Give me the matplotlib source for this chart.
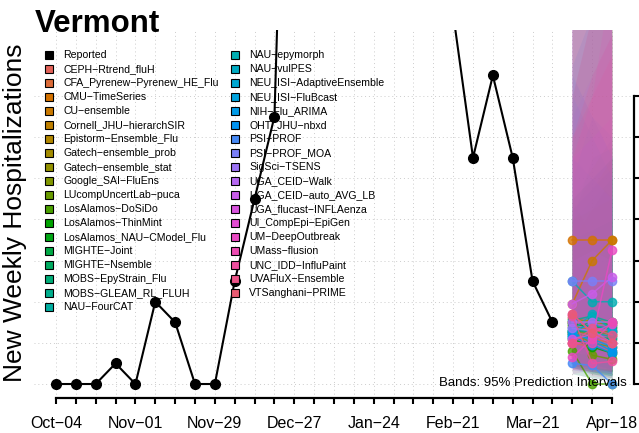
import matplotlib
matplotlib.use("Agg")
import matplotlib.pyplot as plt
import matplotlib.transforms as mtransforms
import numpy as np

plt.rcParams['font.family'] = ['Liberation Sans', 'DejaVu Sans']

# weekly hospital admissions, Oct-04 .. Mar-28
weeks_obs = np.arange(26)
reported = [0, 0, 0, 1, 0, 4, 3, 0, 0, 5, 9, 13,
            45, 60, 58, 52, 45, 38, 30, 26,
            18, 11, 15, 11, 5, 3]

tick_labels = ['Oct\u221204', 'Nov\u221201', 'Nov\u221229', 'Dec\u221227',
               'Jan\u221224', 'Feb\u221221', 'Mar\u221221', 'Apr\u221218']

models = ['CEPH\u2212Rtrend_fluH', 'CFA_Pyrenew\u2212Pyrenew_HE_Flu', 'CMU\u2212TimeSeries',
          'CU\u2212ensemble', 'Cornell_JHU\u2212hierarchSIR', 'Epistorm\u2212Ensemble_Flu',
          'Gatech\u2212ensemble_prob', 'Gatech\u2212ensemble_stat', 'Google_SAI\u2212FluEns',
          'LUcompUncertLab\u2212puca', 'LosAlamos\u2212DoSiDo', 'LosAlamos\u2212ThinMint',
          'LosAlamos_NAU\u2212CModel_Flu', 'MIGHTE\u2212Joint', 'MIGHTE\u2212Nsemble',
          'MOBS\u2212EpyStrain_Flu', 'MOBS\u2212GLEAM_RL_FLUH', 'NAU\u2212FourCAT',
          'NAU\u2212epymorph', 'NAU\u2212vulPES', 'NEU_ISI\u2212AdaptiveEnsemble',
          'NEU_ISI\u2212FluBcast', 'NIH\u2212Flu_ARIMA', 'OHT_JHU\u2212nbxd', 'PSI\u2212PROF',
          'PSI\u2212PROF_MOA', 'SigSci\u2212TSENS', 'UGA_CEID\u2212Walk',
          'UGA_CEID\u2212auto_AVG_LB', 'UGA_flucast\u2212INFLAenza', 'UI_CompEpi\u2212EpiGen',
          'UM\u2212DeepOutbreak', 'UMass\u2212flusion', 'UNC_IDD\u2212InfluPaint',
          'UVAFluX\u2212Ensemble', 'VTSanghani\u2212PRIME']

# forecast horizons (weeks 26, 27, 28): median, 2.5% and 97.5% quantiles per model
weeks_fc = [26, 27, 28]
median = [[2.0, 1.8, 1.6], [2.5, 2.2, 2.0], [7.0, 7.0, 7.0], [3.9, 6.0, 7.0],
          [2.8, 2.6, 2.4], [3.0, 3.1, 3.0], [2.6, 2.4, 2.6], [3.2, 3.0, 2.9],
          [2.5, 2.0, 1.8], [3.0, 1.4, 1.2], [1.6, 0.0, 0.0], [2.2, 1.8, 1.5],
          [2.9, 2.8, 2.7], [2.4, 2.3, 2.2], [2.6, 2.5, 2.5], [2.3, 3.2, 2.8],
          [3.1, 3.3, 3.0], [2.7, 2.5, 2.3], [5.0, 4.0, 4.0], [2.6, 3.4, 2.6],
          [2.6, 2.9, 2.6], [2.4, 2.2, 1.8], [2.5, 2.1, 1.6], [2.3, 1.9, 1.5],
          [1.0, 0.9, 0.0], [5.0, 5.0, 5.0], [2.7, 2.6, 2.0], [3.0, 3.0, 3.0],
          [3.9, 4.4, 5.2], [2.2, 2.4, 2.0], [3.4, 2.5, 2.9], [1.3, 2.2, 6.5],
          [2.0, 2.0, 3.0], [3.3, 1.0, 1.1], [2.0, 2.7, 2.4], [3.4, 2.5, 2.0]]
lower = [[0.8, 0.6, 0.5], [1.0, 0.8, 0.6], [3.0, 2.5, 2.0], [1.5, 2.0, 2.2],
         [1.0, 0.8, 0.6], [1.2, 1.0, 0.8], [0.9, 0.7, 0.6], [1.2, 1.0, 0.8],
         [0.8, 0.6, 0.4], [1.0, 0.5, 0.3], [0.5, 0.3, 0.2], [0.8, 0.5, 0.4],
         [1.0, 0.8, 0.6], [0.8, 0.6, 0.5], [0.9, 0.7, 0.6], [0.8, 0.9, 0.7],
         [1.1, 1.0, 0.8], [0.9, 0.7, 0.5], [2.0, 1.5, 1.2], [0.9, 1.0, 0.7],
         [0.9, 0.8, 0.6], [0.8, 0.6, 0.4], [0.8, 0.6, 0.4], [0.7, 0.5, 0.3],
         [0.5, 0.3, 0.2], [2.0, 1.6, 1.2], [0.9, 0.7, 0.5], [1.0, 0.8, 0.7],
         [1.5, 1.4, 1.3], [0.7, 0.6, 0.5], [1.2, 0.8, 0.7], [0.5, 0.7, 1.5],
         [0.7, 0.6, 0.7], [1.0, 0.4, 0.3], [0.7, 0.8, 0.6], [1.2, 0.8, 0.6]]
upper = [[7.0, 8.5, 10.0], [8.0, 9.5, 11.0], [18.0, 20.0, 22.0], [14.0, 18.0, 22.0],
         [8.5, 10.0, 11.0], [9.0, 10.5, 12.0], [8.0, 9.0, 10.0], [17.5, 19.0, 20.0],
         [8.0, 8.5, 9.0], [9.0, 7.0, 7.5], [6.0, 5.0, 5.5], [7.0, 7.5, 8.0],
         [9.0, 10.0, 11.0], [8.0, 9.0, 10.0], [8.5, 9.5, 10.5], [8.0, 11.0, 11.5],
         [18.0, 20.0, 22.0], [9.0, 10.0, 11.0], [17.5, 18.0, 19.0], [10.0, 13.0, 12.0],
         [14.0, 12.0, 10.0], [11.0, 10.0, 9.0], [15.5, 18.0, 21.0], [15.0, 13.0, 11.0],
         [6.0, 6.5, 6.0], [13.0, 15.0, 17.0], [18.0, 20.0, 22.0], [11.0, 12.0, 13.0],
         [19.0, 22.0, 26.0], [19.0, 21.0, 23.0], [20.0, 22.0, 24.0], [11.0, 14.0, 20.0],
         [14.0, 18.0, 21.0], [12.0, 14.0, 16.0], [12.0, 15.0, 17.0], [18.0, 20.0, 22.0]]


def hcl(h, c, l):
    # polar Luv -> sRGB, same as R's grDevices::hcl
    h = np.deg2rad(h)
    u, v = c * np.cos(h), c * np.sin(h)
    xn, yn, zn = 95.047, 100.0, 108.883
    un = 4 * xn / (xn + 15 * yn + 3 * zn)
    vn = 9 * yn / (xn + 15 * yn + 3 * zn)
    y = yn * ((l + 16) / 116) ** 3
    up = u / (13 * l) + un
    vp = v / (13 * l) + vn
    x = 9 * y * up / (4 * vp)
    z = -x / 3 - 5 * y + 3 * y / vp
    m = np.array([[3.240479, -1.537150, -0.498535],
                  [-0.969256, 1.875992, 0.041556],
                  [0.055648, -0.204043, 1.057311]])
    rgb = m @ np.array([x, y, z]) / 100
    rgb = np.where(rgb > 0.00304, 1.055 * np.abs(rgb) ** (1 / 2.4) - 0.055, 12.92 * rgb)
    return tuple(np.clip(rgb, 0, 1))


n = len(models)
colors = [hcl(15 + 360 * i / n, 100, 58) for i in range(n)]

W, H = 639, 433
fig = plt.figure(figsize=(W / 100, H / 100), dpi=100)
px = mtransforms.Affine2D().scale(1 / W, -1 / H).translate(0, 1) + fig.transFigure

ax = fig.add_axes([34 / W, 1 - 398 / H, 600 / W, 368 / H])
ax.set_xlim(-1.108, 29.108)
ax.set_ylim(-0.68, 17.21)

# dotted grid
for wk in range(29):
    ax.axvline(wk, color='#cccccc', lw=0.7, ls=(0, (1, 3)), zorder=0)
for yv in range(0, 15, 2):
    ax.axhline(yv, color='#cccccc', lw=0.7, ls=(0, (1, 3)), zorder=0)

# prediction bands
for i in range(n):
    ax.fill_between(weeks_fc, lower[i], upper[i], color=colors[i], alpha=0.13,
                    lw=0, zorder=1)

ax.plot(weeks_obs, reported, color='black', lw=1.5, marker='o', ms=7, zorder=3)

for i in range(n):
    ax.plot(weeks_fc, median[i], color=colors[i], lw=1.1, marker='o', ms=6,
            alpha=0.8, zorder=2)

ax.text(627, 383, 'Bands: 95% Prediction Intervals', transform=px,
        ha='right', va='center', fontsize=9.5, zorder=5)

# axes
for side in ['left', 'top']:
    ax.spines[side].set_visible(False)
ax.spines['bottom'].set_bounds(0, 28)
ax.spines['bottom'].set_linewidth(1.6)
ax.spines['right'].set_bounds(0, 14)
ax.spines['right'].set_linewidth(1.6)
ax.set_xticks(range(29))
ax.set_xticklabels([tick_labels[k // 4] if k % 4 == 0 else '' for k in range(29)],
                   fontsize=11.5)
ax.tick_params(axis='x', direction='out', length=4, width=1.5, pad=9)
ax.yaxis.tick_right()
ax.set_yticks(range(0, 15, 2))
ax.tick_params(axis='y', direction='out', length=4, width=1.5, labelright=False)

# legend
for i, name in enumerate(['Reported'] + models):
    col, row = divmod(i, 19)
    bx = 48.5 if col == 0 else 234.5
    by = 55 + 14 * row
    fc = 'black' if i == 0 else colors[i - 1]
    ax.plot([bx], [by], marker='s', ms=6.2, mfc=fc, mec='black', mew=0.8,
            transform=px, clip_on=False, zorder=4)
    ax.text(bx + 14.5, by, name, transform=px, fontsize=7.6, va='center',
            ha='left', zorder=4)

fig.text(35, 32, 'Vermont', transform=px, fontsize=22.5, fontweight='bold',
         va='baseline', ha='left')
fig.text(15, 213, 'New Weekly Hospitalizations', transform=px, fontsize=19,
         rotation=90, va='center', ha='center')

fig.savefig('out.png', dpi=100)
